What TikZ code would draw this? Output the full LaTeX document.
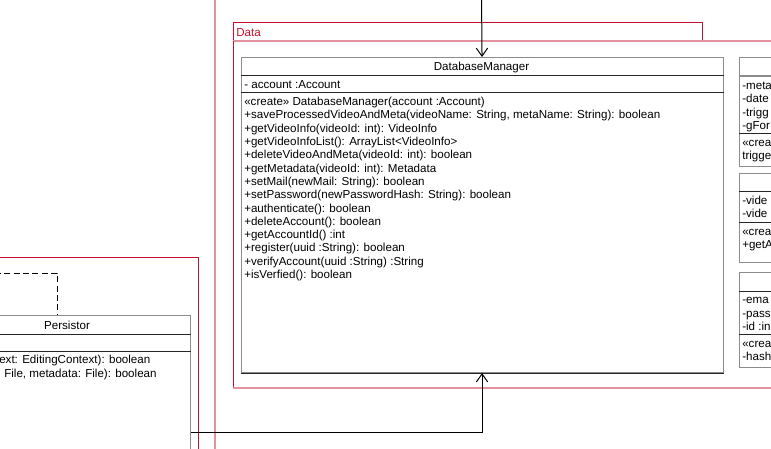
\documentclass[tikz,border=0pt]{standalone}
\usepackage{fontspec}
\setmainfont{Liberation Sans}
\usetikzlibrary{arrows.meta}
\definecolor{pkgred}{HTML}{C8102E}
\definecolor{pkgpink}{HTML}{E2939F}
\definecolor{clsgray}{HTML}{8C8C8C}

\begin{document}
\begin{tikzpicture}[x=0.75pt, y=-0.75pt, font=\fontsize{8.7}{10}\selectfont,
  cls/.style={draw=clsgray, line width=0.8pt, anchor=north west, inner sep=0pt},
  member/.style={anchor=west, inner sep=0pt, text height=6.4pt, text depth=1.6pt},
  sep/.style={line width=0.75pt, black!85},
  umlarrow/.style={-{Straight Barb[length=6pt, width=8.5pt]}, line width=0.75pt}]
  \useasboundingbox (0,0) rectangle (771,449);
  \clip (0,0) rectangle (771,449);
  % ---- package frames ----
  \draw[pkgred, line width=0.75pt] (-5,257) -- (198,257) -- (198,455);
  \draw[pkgpink, line width=0.9pt] (215,-5) -- (215,455);
  \draw[pkgred, line width=0.75pt] (233,41) -- (233,23) -- (702,23) -- (702,41);
  \draw[pkgpink, line width=0.9pt] (233,41) -- (780,41);
  \draw[pkgred, line width=0.75pt] (233,41) -- (233,388);
  \draw[pkgpink, line width=0.9pt] (233,388) -- (780,388);
  \node[anchor=west, inner sep=0pt, pkgred] (datalbl) at (236,32.5) {Data};
  % ---- DatabaseManager ----
  \node[cls, minimum width=361.5pt, minimum height=236.25pt] (dbm) at (240.5,57) {};
  \draw[sep] (dbm.west |- 0,76) -- (dbm.east |- 0,76);
  \draw[sep] (dbm.west |- 0,93) -- (dbm.east |- 0,93);
  \draw[sep] (dbm.south west) -- (dbm.south east);
  \node[inner sep=0pt] (dbmname) at (481.5,67.5) {DatabaseManager};
  \node[member] (dbmattr) at (244,85.5) {- account :Account};
  \foreach \op [count=\i from 0] in {
      {«create» DatabaseManager(account :Account)},
      {+saveProcessedVideoAndMeta(videoName: String, metaName: String): boolean},
      {+getVideoInfo(videoId: int): VideoInfo},
      {+getVideoInfoList(): ArrayList<VideoInfo>},
      {+deleteVideoAndMeta(videoId: int): boolean},
      {+getMetadata(videoId: int): Metadata},
      {+setMail(newMail: String): boolean},
      {+setPassword(newPasswordHash: String): boolean},
      {+authenticate(): boolean},
      {+deleteAccount(): boolean},
      {+getAccountId() :int},
      {+register(uuid :String): boolean},
      {+verifyAccount(uuid :String) :String},
      {+isVerfied(): boolean}}
    \node[member] (dbmop\i) at (244,102.5+13.3*\i) {\op};
  % ---- right column classes (cut at the edge) ----
  \node[cls, minimum width=90pt, minimum height=81.75pt] (metacls) at (739,57) {};
  \draw[sep, clsgray, line width=1.2pt] (metacls.west |- 0,76) -- (metacls.east |- 0,76);
  \draw[sep] (metacls.west |- 0,134) -- (metacls.east |- 0,134);
  \foreach \t [count=\i from 0] in {-meta,-date,-trigg,-gFor}
    \node[member] (metaattr\i) at (742,86.5+13.3*\i) {\t};
  \node[member] (metaop0) at (742,143.5) {«crea};
  \node[member] (metaop1) at (742,156.5) {trigge};
  \node[cls, minimum width=90pt, minimum height=66.75pt] (videocls) at (739,173) {};
  \draw[sep] (videocls.west |- 0,192) -- (videocls.east |- 0,192);
  \draw[sep] (videocls.west |- 0,222) -- (videocls.east |- 0,222);
  \node[member] (videoattr0) at (742,201.5) {-vide};
  \node[member] (videoattr1) at (742,214.5) {-vide};
  \node[member] (videoop0) at (742,232.5) {«crea};
  \node[member] (videoop1) at (742,245.5) {+getA};
  \node[cls, minimum width=90pt, minimum height=71.25pt] (acctcls) at (739,272) {};
  \draw[sep] (acctcls.west |- 0,291) -- (acctcls.east |- 0,291);
  \draw[sep] (acctcls.west |- 0,334) -- (acctcls.east |- 0,334);
  \foreach \t [count=\i from 0] in {-ema,-pass,-id :in}
    \node[member] (acctattr\i) at (742,300.5+13.3*\i) {\t};
  \node[member] (acctop0) at (742,344.5) {«crea};
  \node[member] (acctop1) at (742,357.5) {-hash};
  % ---- Persistor (cut at the edge) ----
  \node[cls, minimum width=184.5pt, minimum height=153.75pt] (persistor) at (-56,315) {};
  \draw[sep] (persistor.west |- 0,334) -- (persistor.east |- 0,334);
  \draw[sep] (persistor.west |- 0,351) -- (persistor.east |- 0,351);
  \node[inner sep=0pt] (persname) at (67,325.5) {Persistor};
  \node[member] (persop0) at (-1,360.5) {ext: EditingContext): boolean};
  \node[member] (persop1) at (4,374.5) {File, metadata: File): boolean};
  % ---- connectors ----
  \coordinate (dashin) at (-5,273);
  \coordinate (dashx) at (57,0);
  \draw[dash pattern=on 4.5pt off 2.5pt, line width=0.75pt] (dashin) -| (dashx |- persistor.north);
  \coordinate (fromtop) at (481.5,-5);
  \draw[umlarrow] (fromtop) -- (dbm.north);
  \coordinate (persout) at (0,432);
  \draw[umlarrow] (persistor.east |- persout) -| (dbm.south);
\end{tikzpicture}
\end{document}
